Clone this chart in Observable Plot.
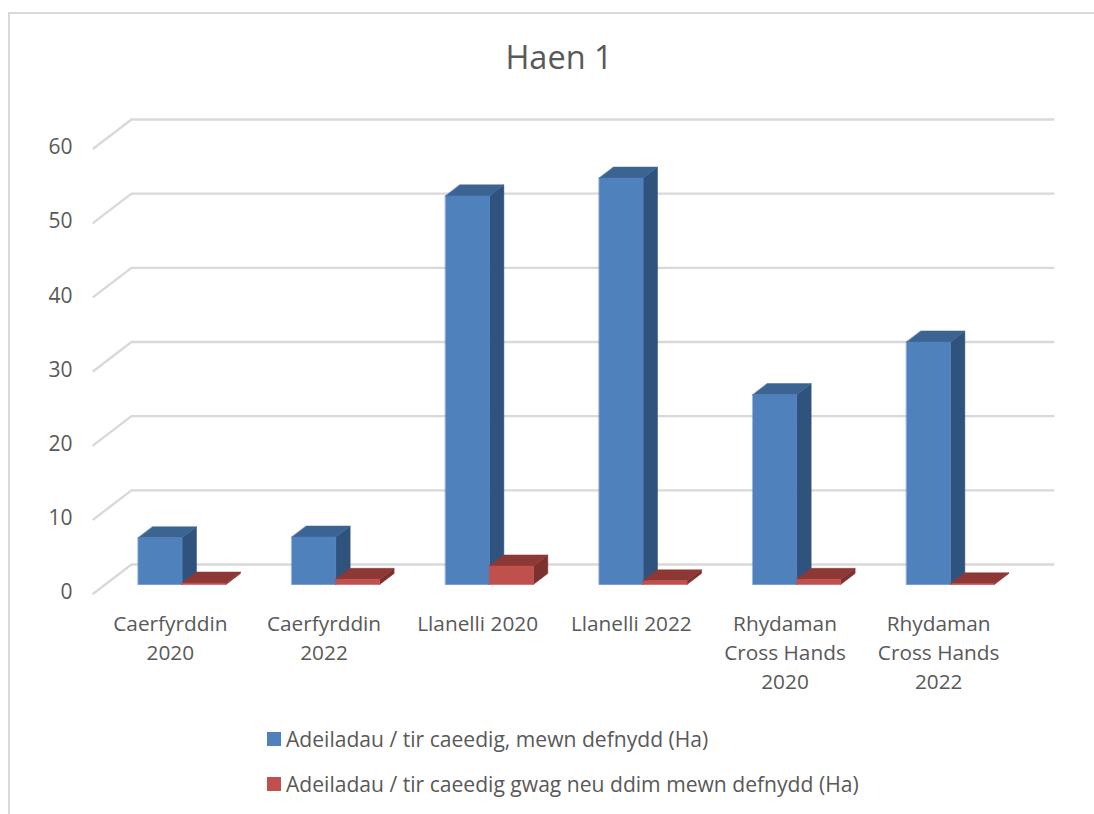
<!DOCTYPE html>
<html>
<head>
<meta charset="utf-8">
<script src="https://cdn.jsdelivr.net/npm/d3@7"></script>
<script src="https://cdn.jsdelivr.net/npm/@observablehq/plot@0.6"></script>
<style>
  html,body{margin:0;padding:0;background:#fff;}
  #page{position:relative;width:1094px;height:814px;overflow:hidden;font-family:"Open Sans",sans-serif;color:#595959;}
  #frame{position:absolute;left:8px;top:12px;right:-4px;bottom:-4px;border-left:2px solid #d9d9d9;border-top:2px solid #d9d9d9;}
  #title{position:relative;height:90px;font-size:32.5px;padding-left:24px;text-align:center;box-sizing:border-box;padding-top:24px;line-height:66px;}
  #chart{position:relative;}
  #chart svg{display:block;overflow:visible;background:transparent;}
  #legend{position:relative;padding-left:267px;padding-top:16px;font-size:21.1px;}
  .row{display:flex;align-items:center;height:45px;white-space:nowrap;}
  .sw{width:14px;height:14px;margin-right:5px;flex:none;}
</style>
</head>
<body>
<div id="page">
  <div id="frame"></div>
  <div id="title">Haen 1</div>
  <div id="chart"></div>
  <div id="legend"></div>
</div>
<script>
const categories = ["Caerfyrddin\n2020","Caerfyrddin\n2022","Llanelli 2020","Llanelli 2022","Rhydaman\nCross Hands\n2020","Rhydaman\nCross Hands\n2022"];
const inUse = [6.3, 6.4, 52.4, 54.8, 25.6, 32.7];
const vacant = [0.2, 0.7, 2.5, 0.5, 0.7, 0.1];
const seriesNames = ["Adeiladau / tir caeedig, mewn defnydd (Ha)","Adeiladau / tir caeedig gwag neu ddim mewn defnydd (Ha)"];
const yTicks = [0,10,20,30,40,50,60];

const blue = {front:"#4f81bd", top:"#3b6493", side:"#30537e"};
const red = {front:"#c0504d", top:"#8e3836", side:"#7d312f"};

// oblique projection: depth d (0..1) shifts along the floor, in data units
const depthX = 0.247, depthY = 3.91;
const project = (x, v, d) => ({x: x + d * depthX, y: v + d * depthY});

const gridPts = yTicks.flatMap(v => [
  {...project(0, v, 0), v}, {...project(0, v, 1), v}, {...project(6, v, 1), v}
]);

const d0 = 0.31, d1 = 0.69, barW = 0.286;
function box(id, x0, v, c) {
  const x1 = x0 + barW;
  const face = (name, corners) => corners.map(([x, val, d]) => ({...project(x, val, d), id: id + name, tone: c[name]}));
  return [
    ...face("side", [[x1,0,d0],[x1,0,d1],[x1,v,d1],[x1,v,d0]]),
    ...face("top", [[x0,v,d0],[x1,v,d0],[x1,v,d1],[x0,v,d1]]),
    ...face("front", [[x0,0,d0],[x1,0,d0],[x1,v,d0],[x0,v,d0]])
  ];
}
const faces = categories.flatMap((_, i) => [
  ...box("a" + i, i + 0.5 - barW, inUse[i], blue),
  ...box("b" + i, i + 0.5, vacant[i], red)
]);

const chart = Plot.plot({
  width: 1094,
  height: 610,
  marginLeft: 93,
  marginRight: 79,
  marginTop: 58,
  marginBottom: 107,
  style: {background: "transparent", color: "#595959", fontFamily: '"Open Sans",sans-serif'},
  x: {domain: [0, 6], label: null},
  y: {domain: [0, 60], label: null},
  color: {type: "identity"},
  marks: [
    Plot.line(gridPts, {x: "x", y: "y", z: "v", stroke: "#d9d9d9", strokeWidth: 2.4, curve: "linear"}),
    Plot.line(faces, {x: "x", y: "y", z: "id", fill: "tone", stroke: "tone", strokeWidth: 0.5, curve: "linear-closed"}),
    Plot.axisY(yTicks, {tickSize: 0, tickPadding: 21, dy: -1, fontSize: 21, fill: "#595959", label: null}),
    Plot.axisX(categories.map((_, i) => i + 0.5), {
      tickSize: 0, tickPadding: 17, fontSize: 20.8, fill: "#595959", lineHeight: 1.39, label: null,
      tickFormat: v => categories[Math.floor(v)]
    })
  ]
});
document.getElementById("chart").append(chart);

const legend = document.getElementById("legend");
seriesNames.forEach((name, i) => {
  const row = document.createElement("div");
  row.className = "row";
  const sw = document.createElement("span");
  sw.className = "sw";
  sw.style.background = [blue.front, red.front][i];
  row.append(sw, document.createTextNode(name));
  legend.append(row);
});
</script>
</body>
</html>
